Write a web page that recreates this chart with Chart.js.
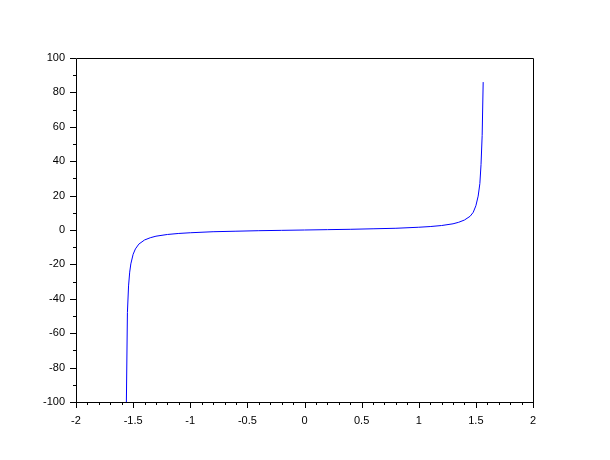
<!DOCTYPE html>
<html>
<head>
<meta charset="utf-8">
<script src="https://cdn.jsdelivr.net/npm/chart.js@4/dist/chart.umd.min.js"></script>
<style>
html,body{margin:0;padding:0;background:#fff;}
#wrap{width:610px;height:460px;}
</style>
</head>
<body>
<div id="wrap"><canvas id="c" width="610" height="460"></canvas></div>
<script>
// x values
const xValues = [-1.562, -1.55, -1.54, -1.53, -1.52, -1.50, -1.48, -1.45, -1.40, -1.35, -1.30, -1.20, -1.10, -1.00, -0.80, -0.60, -0.40, -0.20, 0.00,
  0.20, 0.40, 0.60, 0.80, 1.00, 1.10, 1.20, 1.30, 1.35, 1.40, 1.45, 1.477, 1.50, 1.52, 1.535, 1.545, 1.555, 1.564];
// y values
const yValues = [-117, -48, -32.5, -24.5, -19.7, -14.1, -11.0, -8.2, -5.8, -4.5, -3.6, -2.6, -2.0, -1.6, -1.0, -0.7, -0.4, -0.2, 0.0,
  0.2, 0.4, 0.7, 1.0, 1.6, 2.0, 2.6, 3.6, 4.5, 5.8, 8.0, 10.3, 14.1, 19.7, 27, 38, 55, 86];
const xTickLabels = ["-2", "-1.5", "-1", "-0.5", "0", "0.5", "1", "1.5", "2"];
const yTickLabels = ["-100", "-80", "-60", "-40", "-20", "0", "20", "40", "60", "80", "100"];

const points = xValues.map((x, i) => ({x: x, y: yValues[i]}));

const framePlugin = {
  id: 'frame',
  afterDraw(chart) {
    const ctx = chart.ctx;
    const a = chart.chartArea;
    const xs = chart.scales.x, ys = chart.scales.y;
    ctx.save();
    ctx.strokeStyle = '#000';
    ctx.lineWidth = 1;
    ctx.beginPath();
    ctx.rect(Math.round(a.left) + 0.5, Math.round(a.top) + 0.5, Math.round(a.right - a.left), Math.round(a.bottom - a.top));
    ctx.stroke();
    ctx.beginPath();
    // x ticks (major every 0.5, minor every 0.1)
    for (let i = -20; i <= 20; i++) {
      const v = i / 10;
      const px = Math.round(xs.getPixelForValue(v)) + 0.5;
      const len = (i % 5 === 0) ? 6 : 3;
      ctx.moveTo(px, Math.round(a.bottom));
      ctx.lineTo(px, Math.round(a.bottom) + len);
    }
    // y ticks (major every 20, minor every 10)
    for (let i = -10; i <= 10; i++) {
      const v = i * 10;
      const py = Math.round(ys.getPixelForValue(v)) + 0.5;
      const len = (i % 2 === 0) ? 6 : 3;
      ctx.moveTo(Math.round(a.left), py);
      ctx.lineTo(Math.round(a.left) - len, py);
    }
    ctx.stroke();
    ctx.restore();
  }
};

new Chart(document.getElementById('c'), {
  type: 'scatter',
  data: {
    datasets: [{
      data: points,
      showLine: true,
      borderColor: '#0000ff',
      backgroundColor: '#0000ff',
      borderWidth: 1,
      pointRadius: 0,
      tension: 0
    }]
  },
  options: {
    responsive: false,
    animation: false,
    devicePixelRatio: 1,
    layout: {padding: {left: 0, right: 77, top: 58, bottom: 0}},
    plugins: {legend: {display: false}, tooltip: {enabled: false}},
    scales: {
      x: {
        type: 'linear', min: -2, max: 2,
        grid: {display: false, drawTicks: false},
        border: {display: false},
        ticks: {
          stepSize: 0.5, padding: 12, color: '#000', maxRotation: 0, autoSkip: false,
          font: {family: 'Liberation Sans, Arial, sans-serif', size: 11},
          callback: (v) => { const i = Math.round((v + 2) * 2); return xTickLabels[i]; }
        },
        afterFit: (s) => { s.height = 58; }
      },
      y: {
        type: 'linear', min: -100, max: 100,
        grid: {display: false, drawTicks: false},
        border: {display: false},
        ticks: {
          stepSize: 20, padding: 11, color: '#000', autoSkip: false,
          font: {family: 'Liberation Sans, Arial, sans-serif', size: 11},
          callback: (v) => { const i = Math.round((v + 100) / 20); return yTickLabels[i]; }
        },
        afterFit: (s) => { s.width = 76; }
      }
    }
  },
  plugins: [framePlugin]
});
</script>
</body>
</html>
